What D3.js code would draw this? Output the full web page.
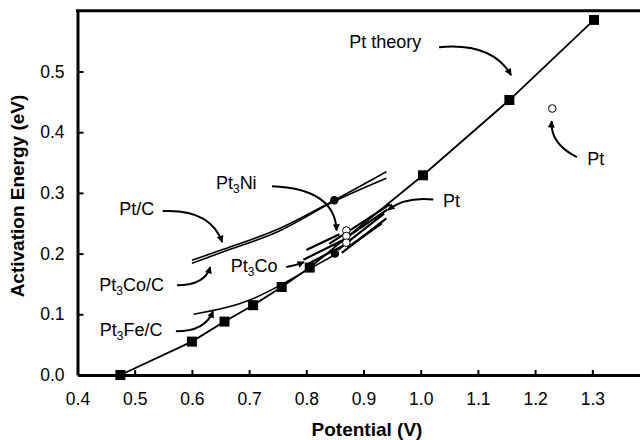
<!DOCTYPE html>
<html>
<head>
<meta charset="utf-8">
<script src="https://cdn.jsdelivr.net/npm/d3@7"></script>
<style>
  body { margin: 0; background: #fff; }
  svg { display: block; font-family: Arial, "Liberation Sans", sans-serif; }
</style>
</head>
<body>
<svg class="chart"></svg>
<script>
// theory curve (squares)
var theoryV = [0.475, 0.6, 0.657, 0.707, 0.757, 0.806, 1.004, 1.155, 1.303];
var theoryE = [0.0, 0.055, 0.088, 0.115, 0.145, 0.177, 0.329, 0.453, 0.585];

// experimental curves [V, E]
var ptC_upper = [[0.6, 0.189], [0.655, 0.207], [0.75, 0.240], [0.849, 0.288], [0.94, 0.335]];
var ptC_lower = [[0.6, 0.184], [0.655, 0.203], [0.75, 0.236], [0.849, 0.286], [0.94, 0.324]];
var pt3FeC = [[0.603, 0.100], [0.70, 0.123], [0.755, 0.148], [0.80, 0.172], [0.85, 0.198]];
var pt3Co = [
  [[0.80, 0.206], [0.858, 0.232]],
  [[0.795, 0.190], [0.862, 0.221]],
  [[0.805, 0.184], [0.866, 0.214]]
];
var ptLines = [
  [[0.84, 0.216], [0.946, 0.281]],
  [[0.848, 0.212], [0.942, 0.273]],
  [[0.855, 0.206], [0.936, 0.266]],
  [[0.862, 0.201], [0.94, 0.258]],
  [[0.872, 0.210], [0.932, 0.250]]
];
var filledDots = [[0.849, 0.288], [0.85, 0.200]];
var openDots = [[0.870, 0.238], [0.870, 0.229], [0.870, 0.218], [1.23, 0.439]];

var xTicks = [0.4, 0.5, 0.6, 0.7, 0.8, 0.9, 1.0, 1.1, 1.2, 1.3];
var yTicks = [0.0, 0.1, 0.2, 0.3, 0.4, 0.5];

// labels: text parts [main, subscript, rest], text anchor, arrow start/control/tip (data units)
var notes = [
  { parts: ["Pt theory"], at: [0.875, 0.539], arrow: [[1.032, 0.540], [1.125, 0.548], [1.158, 0.494]] },
  { parts: ["Pt"], at: [1.291, 0.346], arrow: [[1.273, 0.359], [1.226, 0.381], [1.229, 0.418]] },
  { parts: ["Pt"], at: [1.039, 0.277], arrow: [[1.022, 0.289], [0.973, 0.294], [0.943, 0.272]] },
  { parts: ["Pt", "3", "Ni"], at: [0.642, 0.306], arrow: [[0.740, 0.311], [0.850, 0.307], [0.853, 0.238]] },
  { parts: ["Pt/C"], at: [0.473, 0.264], arrow: [[0.549, 0.270], [0.632, 0.274], [0.653, 0.219]] },
  { parts: ["Pt", "3", "Co/C"], at: [0.438, 0.138], arrow: [[0.574, 0.148], [0.623, 0.148], [0.632, 0.178]] },
  { parts: ["Pt", "3", "Fe/C"], at: [0.439, 0.064], arrow: [[0.572, 0.072], [0.623, 0.072], [0.637, 0.105]] },
  { parts: ["Pt", "3", "Co"], at: [0.668, 0.170], arrow: [[0.765, 0.178], [0.780, 0.180], [0.796, 0.186]] }
];

var width = 640;
var height = 440;

var svg = d3.select(".chart").attr("width", width).attr("height", height);

var x = d3.scaleLinear().domain([0.4, 1.4]).range([77.5, 649.5]);
var y = d3.scaleLinear().domain([0, 0.6]).range([375, 10.8]);

svg.append("defs").append("marker")
  .attr("id", "arrow")
  .attr("viewBox", "0 0 10 10")
  .attr("refX", 9).attr("refY", 5)
  .attr("markerWidth", 8).attr("markerHeight", 7)
  .attr("markerUnits", "userSpaceOnUse")
  .attr("orient", "auto")
  .append("path").attr("d", "M0,0 L10,5 L0,10 z").attr("fill", "#000");

// axes
var xAxis = d3.axisBottom(x).tickValues(xTicks).tickSizeInner(-5).tickSizeOuter(0).tickPadding(18)
  .tickFormat(d3.format(".1f"));
var yAxis = d3.axisLeft(y).tickValues(yTicks).tickSizeInner(-5).tickSizeOuter(0).tickPadding(13)
  .tickFormat(d3.format(".1f"));

var gx = svg.append("g").attr("transform", "translate(0," + y(0) + ")").call(xAxis);
var gy = svg.append("g").attr("transform", "translate(" + x(0.4) + ",0)").call(yAxis);
[gx, gy].forEach(function (g) {
  g.select(".domain").attr("stroke-width", 3);
  g.selectAll(".tick line").attr("stroke-width", 2);
  g.selectAll(".tick text").attr("font-size", 17.5).attr("font-family", "Arial, Liberation Sans, sans-serif").attr("fill", "#000");
});
gy.selectAll(".tick line").attr("transform", "translate(1,0)");

// top frame
svg.append("line")
  .attr("x1", x(0.4) - 1.5).attr("x2", width)
  .attr("y1", y(0.6)).attr("y2", y(0.6))
  .attr("stroke", "#000").attr("stroke-width", 3);

svg.append("text")
  .attr("x", 367).attr("y", 436)
  .attr("text-anchor", "middle")
  .attr("font-size", 19).attr("font-weight", "bold")
  .text("Potential (V)");

svg.append("text")
  .attr("transform", "translate(24,196) rotate(-90)")
  .attr("text-anchor", "middle")
  .attr("font-size", 19).attr("font-weight", "bold")
  .text("Activation Energy (eV)");

var line = d3.line().x(function (d) { return x(d[0]); }).y(function (d) { return y(d[1]); });
var smooth = d3.line().curve(d3.curveMonotoneX)
  .x(function (d) { return x(d[0]); }).y(function (d) { return y(d[1]); });

var plot = svg.append("g");

// experimental curves
plot.selectAll("path.exp")
  .data([ptC_upper, ptC_lower, pt3FeC])
  .enter().append("path")
  .attr("class", "exp")
  .attr("d", smooth)
  .attr("fill", "none").attr("stroke", "#000").attr("stroke-width", 1.6);

plot.selectAll("path.co")
  .data(pt3Co)
  .enter().append("path")
  .attr("class", "co")
  .attr("d", line)
  .attr("fill", "none").attr("stroke", "#000").attr("stroke-width", 2.2);

plot.selectAll("path.pt")
  .data(ptLines)
  .enter().append("path")
  .attr("class", "pt")
  .attr("d", line)
  .attr("fill", "none").attr("stroke", "#000").attr("stroke-width", 2.2);

// theory line with squares
var theory = theoryV.map(function (v, i) { return [v, theoryE[i]]; });
plot.append("path")
  .attr("d", line(theory))
  .attr("fill", "none").attr("stroke", "#000").attr("stroke-width", 1.8);

plot.selectAll("rect.sq")
  .data(theory)
  .enter().append("rect")
  .attr("class", "sq")
  .attr("x", function (d) { return x(d[0]) - 5; })
  .attr("y", function (d) { return y(d[1]) - 5; })
  .attr("width", 10).attr("height", 10)
  .attr("fill", "#000");

plot.selectAll("circle.filled")
  .data(filledDots)
  .enter().append("circle")
  .attr("class", "filled")
  .attr("cx", function (d) { return x(d[0]); })
  .attr("cy", function (d) { return y(d[1]); })
  .attr("r", 4.2).attr("fill", "#000");

plot.selectAll("circle.open")
  .data(openDots)
  .enter().append("circle")
  .attr("class", "open")
  .attr("cx", function (d) { return x(d[0]); })
  .attr("cy", function (d) { return y(d[1]); })
  .attr("r", 3.8).attr("fill", "#fff").attr("stroke", "#000").attr("stroke-width", 1);

// annotations
var ann = svg.append("g");
ann.selectAll("path.arrow")
  .data(notes)
  .enter().append("path")
  .attr("class", "arrow")
  .attr("d", function (d) {
    var a = d.arrow;
    return "M" + x(a[0][0]) + "," + y(a[0][1]) +
      " Q" + x(a[1][0]) + "," + y(a[1][1]) + " " + x(a[2][0]) + "," + y(a[2][1]);
  })
  .attr("fill", "none").attr("stroke", "#000").attr("stroke-width", 2)
  .attr("marker-end", "url(#arrow)");

var labels = ann.selectAll("text.note")
  .data(notes)
  .enter().append("text")
  .attr("class", "note")
  .attr("x", function (d) { return x(d.at[0]); })
  .attr("y", function (d) { return y(d.at[1]); })
  .attr("font-size", 18);

labels.each(function (d) {
  var t = d3.select(this);
  t.append("tspan").text(d.parts[0]);
  if (d.parts.length > 1) {
    t.append("tspan").attr("font-size", 12).attr("dy", 4).text(d.parts[1]);
    t.append("tspan").attr("dy", -4).text(d.parts[2]);
  }
});
</script>
</body>
</html>
